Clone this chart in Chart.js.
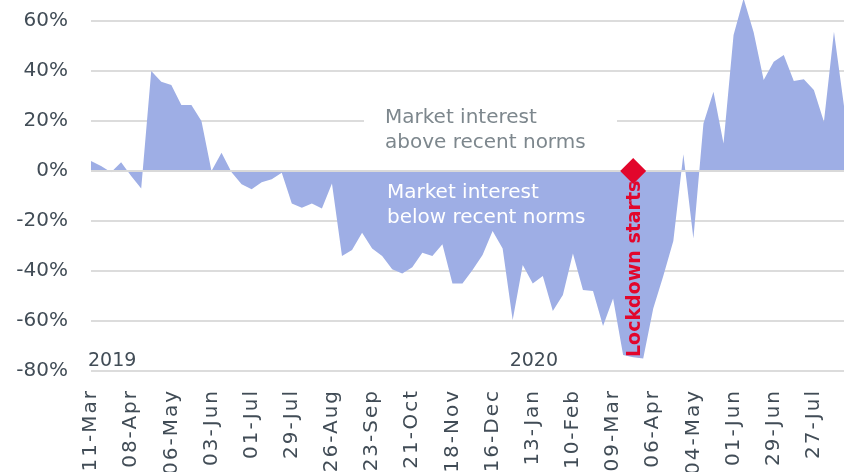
<!DOCTYPE html>
<html>
<head>
<meta charset="utf-8">
<script src="https://cdn.jsdelivr.net/npm/chart.js@4"></script>
<style>
  html, body { margin: 0; padding: 0; background: #fff; overflow: hidden; }
  #wrap { position: relative; width: 844px; height: 472px; }
</style>
</head>
<body>
<div id="wrap"><canvas id="interestChart"></canvas></div>
<script>
// Weekly market interest, % above / below recent norms, from the week of 11-Mar-2019
const interest = [
  4, 2, -0.5, 3.5, -2, -7, 40, 35.7, 34.4, 26.4,
  26.4, 20, 0, 7.3, -0.5, -5.3, -7.3, -4.5, -3.3, -0.7,
  -13, -14.7, -13, -15, -5, -34, -31.6, -24.7, -31, -34,
  -39.3, -41, -38.5, -32.7, -34, -29.3, -45, -45, -39.6, -33.6,
  -24, -31, -59.6, -37.6, -45, -42, -56, -49.6, -33, -47.6,
  -48, -62, -51, -73.6, -74.5, -75, -55, -42, -28, 6.7,
  -27, 19, 31.7, 11, 54.4, 69, 55.5, 36.4, 43.7, 46.4,
  36, 36.7, 32.4, 19.7, 55.7, 26
];
const yTicks = [-80, -60, -40, -20, 0, 20, 40, 60];
const monthNames = ['Jan', 'Feb', 'Mar', 'Apr', 'May', 'Jun', 'Jul', 'Aug', 'Sep', 'Oct', 'Nov', 'Dec'];
const yearLabels = ['2019', '2020'];
const yearWeeks = [0, 42];
const lockdownWeek = 54; // 23-Mar-2020

// one category per week, labelled DD-Mon
const weekLabels = interest.map((_, i) => {
  const d = new Date(Date.UTC(2019, 2, 11 + 7 * i));
  return String(d.getUTCDate()).padStart(2, '0') + '-' + monthNames[d.getUTCMonth()];
});

const inkColor = '#414c56';
const noteGrey = '#7d878d';
const lockdownRed = '#e2062c';

Chart.defaults.font.family = '"DejaVu Sans", sans-serif';
Chart.defaults.font.size = 20;

// spread the date labels out a little
const wideDates = {
  id: 'wideDates',
  beforeDraw(chart) {
    const xs = chart.scales.x;
    if (xs._wide) return;
    const drawLabels = xs.drawLabels.bind(xs);
    xs.drawLabels = area => {
      chart.ctx.save();
      chart.ctx.letterSpacing = '2px';
      drawLabels(area);
      chart.ctx.restore();
    };
    xs._wide = true;
  }
};

// text notes drawn on top of the area
const notes = {
  id: 'notes',
  afterDatasetsDraw(chart) {
    const { ctx, scales: { x } } = chart;
    ctx.save();
    ctx.font = '20px "DejaVu Sans"';
    ctx.textBaseline = 'alphabetic';
    ctx.textAlign = 'left';

    // white panel so the 20% gridline stops around the upper note
    ctx.fillStyle = '#fff';
    ctx.fillRect(364, 98, 253, 58);
    ctx.fillStyle = noteGrey;
    ctx.fillText('Market interest', 385, 123);
    ctx.fillText('above recent norms', 385, 148);

    ctx.fillStyle = '#fff';
    ctx.fillText('Market interest', 387, 198);
    ctx.fillText('below recent norms', 387, 223);

    ctx.fillStyle = inkColor;
    ctx.font = '19px "DejaVu Sans"';
    yearLabels.forEach((lbl, i) => {
      ctx.fillText(lbl, x.getPixelForValue(yearWeeks[i]) - 3, 366);
    });

    ctx.translate(x.getPixelForValue(lockdownWeek) + 7, 357);
    ctx.rotate(-Math.PI / 2);
    ctx.font = 'bold 19px "DejaVu Sans"';
    ctx.fillStyle = lockdownRed;
    ctx.fillText('Lockdown starts', 0, 0);
    ctx.restore();
  }
};

const ctx = document.getElementById('interestChart').getContext('2d');
new Chart(ctx, {
  type: 'line',
  data: {
    labels: weekLabels,
    datasets: [{
      // lockdown marker on the zero line
      data: weekLabels.map((_, i) => i === lockdownWeek ? 0 : null),
      showLine: false,
      pointStyle: 'rectRot',
      pointRadius: 13,
      pointBackgroundColor: lockdownRed,
      pointBorderWidth: 0,
      clip: false
    }, {
      // zero line sits over the area
      data: interest.map(() => 0),
      borderColor: '#d9d9d9',
      borderWidth: 2,
      pointRadius: 0
    }, {
      data: interest,
      fill: 'origin',
      backgroundColor: '#9eaee5',
      borderWidth: 0,
      pointRadius: 0,
      tension: 0
    }]
  },
  options: {
    responsive: true,
    maintainAspectRatio: false,
    animation: false,
    layout: { padding: 0, autoPadding: false },
    plugins: {
      legend: { display: false },
      tooltip: { enabled: false }
    },
    scales: {
      x: {
        grid: { display: false },
        border: { display: false },
        ticks: {
          autoSkip: false,
          minRotation: 90,
          maxRotation: 90,
          padding: 10,
          color: inkColor,
          callback: (v, i) => i % 4 === 0 ? weekLabels[i] : ''
        },
        afterFit: s => {
          s.height = 101;
          s.paddingLeft = 0;
          s.paddingRight = 0;
        }
      },
      y: {
        min: -80,
        max: 68.4,
        grid: { color: '#dcdcdc', lineWidth: 2, drawTicks: false },
        border: { display: false },
        afterBuildTicks: s => { s.ticks = yTicks.map(v => ({ value: v })); },
        ticks: {
          padding: 23,
          color: inkColor,
          callback: v => v + '%'
        },
        afterFit: s => {
          s.width = 91;
          s.paddingTop = 0;
          s.paddingBottom = 0;
        }
      }
    }
  },
  plugins: [wideDates, notes]
});
</script>
</body>
</html>
